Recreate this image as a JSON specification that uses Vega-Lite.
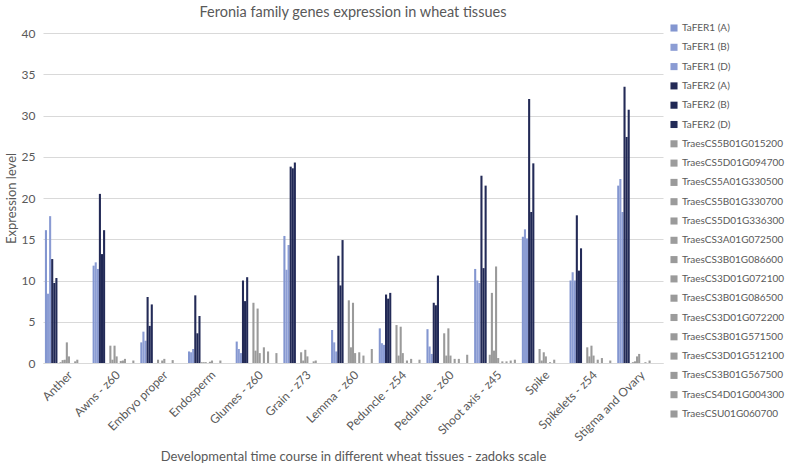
{
  "$schema": "https://vega.github.io/schema/vega-lite/v6.json",
  "width": 620,
  "height": 330,
  "autosize": {"type": "none"},
  "padding": {"left": 43, "top": 33, "right": 124, "bottom": 104},
  "background": "white",
  "title": {"text": "Feronia family genes expression in wheat tissues", "fontSize": 14.5, "fontWeight": "normal", "color": "#595959", "font": "Lato", "offset": 3},
  "config": {"view": {"stroke": null}, "font": "Lato"},
  "datasets": {
    "expr": [
      {"t":"Anther","g":"TaFER1 (A)","v":16.1},{"t":"Anther","g":"TaFER1 (B)","v":8.4},{"t":"Anther","g":"TaFER1 (D)","v":17.8},{"t":"Anther","g":"TaFER2 (A)","v":12.6},{"t":"Anther","g":"TaFER2 (B)","v":9.7},{"t":"Anther","g":"TaFER2 (D)","v":10.3},
      {"t":"Anther","g":"TraesCS5B01G015200","v":0},{"t":"Anther","g":"TraesCS5D01G094700","v":0.1},{"t":"Anther","g":"TraesCS5A01G330500","v":0.35},{"t":"Anther","g":"TraesCS5B01G330700","v":0.4},{"t":"Anther","g":"TraesCS5D01G336300","v":2.5},{"t":"Anther","g":"TraesCS3A01G072500","v":0.8},{"t":"Anther","g":"TraesCS3B01G086600","v":0},{"t":"Anther","g":"TraesCS3D01G072100","v":0},{"t":"Anther","g":"TraesCS3B01G086500","v":0.2},{"t":"Anther","g":"TraesCS3D01G072200","v":0.4},{"t":"Anther","g":"TraesCS3B01G571500","v":0},{"t":"Anther","g":"TraesCS3D01G512100","v":0},{"t":"Anther","g":"TraesCS3B01G567500","v":0},{"t":"Anther","g":"TraesCS4D01G004300","v":0},{"t":"Anther","g":"TraesCSU01G060700","v":0},

      {"t":"Awns - z60","g":"TaFER1 (A)","v":11.8},{"t":"Awns - z60","g":"TaFER1 (B)","v":12.2},{"t":"Awns - z60","g":"TaFER1 (D)","v":11.4},{"t":"Awns - z60","g":"TaFER2 (A)","v":20.5},{"t":"Awns - z60","g":"TaFER2 (B)","v":13.2},{"t":"Awns - z60","g":"TaFER2 (D)","v":16.1},
      {"t":"Awns - z60","g":"TraesCS5B01G015200","v":0},{"t":"Awns - z60","g":"TraesCS5D01G094700","v":0},{"t":"Awns - z60","g":"TraesCS5A01G330500","v":2.1},{"t":"Awns - z60","g":"TraesCS5B01G330700","v":0.4},{"t":"Awns - z60","g":"TraesCS5D01G336300","v":2.1},{"t":"Awns - z60","g":"TraesCS3A01G072500","v":0.8},{"t":"Awns - z60","g":"TraesCS3B01G086600","v":0},{"t":"Awns - z60","g":"TraesCS3D01G072100","v":0.25},{"t":"Awns - z60","g":"TraesCS3B01G086500","v":0.3},{"t":"Awns - z60","g":"TraesCS3D01G072200","v":0.5},{"t":"Awns - z60","g":"TraesCS3B01G571500","v":0},{"t":"Awns - z60","g":"TraesCS3D01G512100","v":0},{"t":"Awns - z60","g":"TraesCS3B01G567500","v":0},{"t":"Awns - z60","g":"TraesCS4D01G004300","v":0.3},{"t":"Awns - z60","g":"TraesCSU01G060700","v":0},

      {"t":"Embryo proper","g":"TaFER1 (A)","v":2.5},{"t":"Embryo proper","g":"TaFER1 (B)","v":3.8},{"t":"Embryo proper","g":"TaFER1 (D)","v":2.7},{"t":"Embryo proper","g":"TaFER2 (A)","v":8.0},{"t":"Embryo proper","g":"TaFER2 (B)","v":4.5},{"t":"Embryo proper","g":"TaFER2 (D)","v":7.1},
      {"t":"Embryo proper","g":"TraesCS5B01G015200","v":0},{"t":"Embryo proper","g":"TraesCS5D01G094700","v":0},{"t":"Embryo proper","g":"TraesCS5A01G330500","v":0.4},{"t":"Embryo proper","g":"TraesCS5B01G330700","v":0},{"t":"Embryo proper","g":"TraesCS5D01G336300","v":0.3},{"t":"Embryo proper","g":"TraesCS3A01G072500","v":0.5},{"t":"Embryo proper","g":"TraesCS3B01G086600","v":0},{"t":"Embryo proper","g":"TraesCS3D01G072100","v":0},{"t":"Embryo proper","g":"TraesCS3B01G086500","v":0},{"t":"Embryo proper","g":"TraesCS3D01G072200","v":0.35},{"t":"Embryo proper","g":"TraesCS3B01G571500","v":0},{"t":"Embryo proper","g":"TraesCS3D01G512100","v":0},{"t":"Embryo proper","g":"TraesCS3B01G567500","v":0},{"t":"Embryo proper","g":"TraesCS4D01G004300","v":0},{"t":"Embryo proper","g":"TraesCSU01G060700","v":0},

      {"t":"Endosperm","g":"TaFER1 (A)","v":1.4},{"t":"Endosperm","g":"TaFER1 (B)","v":1.3},{"t":"Endosperm","g":"TaFER1 (D)","v":1.7},{"t":"Endosperm","g":"TaFER2 (A)","v":8.2},{"t":"Endosperm","g":"TaFER2 (B)","v":3.6},{"t":"Endosperm","g":"TaFER2 (D)","v":5.7},
      {"t":"Endosperm","g":"TraesCS5B01G015200","v":0.1},{"t":"Endosperm","g":"TraesCS5D01G094700","v":0.1},{"t":"Endosperm","g":"TraesCS5A01G330500","v":0.1},{"t":"Endosperm","g":"TraesCS5B01G330700","v":0},{"t":"Endosperm","g":"TraesCS5D01G336300","v":0.15},{"t":"Endosperm","g":"TraesCS3A01G072500","v":0.3},{"t":"Endosperm","g":"TraesCS3B01G086600","v":0},{"t":"Endosperm","g":"TraesCS3D01G072100","v":0},{"t":"Endosperm","g":"TraesCS3B01G086500","v":0},{"t":"Endosperm","g":"TraesCS3D01G072200","v":0.3},{"t":"Endosperm","g":"TraesCS3B01G571500","v":0},{"t":"Endosperm","g":"TraesCS3D01G512100","v":0},{"t":"Endosperm","g":"TraesCS3B01G567500","v":0},{"t":"Endosperm","g":"TraesCS4D01G004300","v":0},{"t":"Endosperm","g":"TraesCSU01G060700","v":0},

      {"t":"Glumes - z60","g":"TaFER1 (A)","v":2.6},{"t":"Glumes - z60","g":"TaFER1 (B)","v":1.7},{"t":"Glumes - z60","g":"TaFER1 (D)","v":1.2},{"t":"Glumes - z60","g":"TaFER2 (A)","v":10.0},{"t":"Glumes - z60","g":"TaFER2 (B)","v":7.5},{"t":"Glumes - z60","g":"TaFER2 (D)","v":10.4},
      {"t":"Glumes - z60","g":"TraesCS5B01G015200","v":0},{"t":"Glumes - z60","g":"TraesCS5D01G094700","v":0},{"t":"Glumes - z60","g":"TraesCS5A01G330500","v":7.3},{"t":"Glumes - z60","g":"TraesCS5B01G330700","v":1.5},{"t":"Glumes - z60","g":"TraesCS5D01G336300","v":6.6},{"t":"Glumes - z60","g":"TraesCS3A01G072500","v":1.2},{"t":"Glumes - z60","g":"TraesCS3B01G086600","v":0},{"t":"Glumes - z60","g":"TraesCS3D01G072100","v":1.9},{"t":"Glumes - z60","g":"TraesCS3B01G086500","v":0},{"t":"Glumes - z60","g":"TraesCS3D01G072200","v":1.4},{"t":"Glumes - z60","g":"TraesCS3B01G571500","v":0},{"t":"Glumes - z60","g":"TraesCS3D01G512100","v":0},{"t":"Glumes - z60","g":"TraesCS3B01G567500","v":0},{"t":"Glumes - z60","g":"TraesCS4D01G004300","v":1.2},{"t":"Glumes - z60","g":"TraesCSU01G060700","v":0},

      {"t":"Grain - z73","g":"TaFER1 (A)","v":15.4},{"t":"Grain - z73","g":"TaFER1 (B)","v":11.3},{"t":"Grain - z73","g":"TaFER1 (D)","v":14.3},{"t":"Grain - z73","g":"TaFER2 (A)","v":23.8},{"t":"Grain - z73","g":"TaFER2 (B)","v":23.6},{"t":"Grain - z73","g":"TaFER2 (D)","v":24.3},
      {"t":"Grain - z73","g":"TraesCS5B01G015200","v":0},{"t":"Grain - z73","g":"TraesCS5D01G094700","v":0},{"t":"Grain - z73","g":"TraesCS5A01G330500","v":1.3},{"t":"Grain - z73","g":"TraesCS5B01G330700","v":0.3},{"t":"Grain - z73","g":"TraesCS5D01G336300","v":1.6},{"t":"Grain - z73","g":"TraesCS3A01G072500","v":0.8},{"t":"Grain - z73","g":"TraesCS3B01G086600","v":0},{"t":"Grain - z73","g":"TraesCS3D01G072100","v":0},{"t":"Grain - z73","g":"TraesCS3B01G086500","v":0.2},{"t":"Grain - z73","g":"TraesCS3D01G072200","v":0.3},{"t":"Grain - z73","g":"TraesCS3B01G571500","v":0},{"t":"Grain - z73","g":"TraesCS3D01G512100","v":0},{"t":"Grain - z73","g":"TraesCS3B01G567500","v":0},{"t":"Grain - z73","g":"TraesCS4D01G004300","v":0},{"t":"Grain - z73","g":"TraesCSU01G060700","v":0},

      {"t":"Lemma - z60","g":"TaFER1 (A)","v":4.0},{"t":"Lemma - z60","g":"TaFER1 (B)","v":2.5},{"t":"Lemma - z60","g":"TaFER1 (D)","v":1.4},{"t":"Lemma - z60","g":"TaFER2 (A)","v":13.0},{"t":"Lemma - z60","g":"TaFER2 (B)","v":9.4},{"t":"Lemma - z60","g":"TaFER2 (D)","v":14.9},
      {"t":"Lemma - z60","g":"TraesCS5B01G015200","v":0},{"t":"Lemma - z60","g":"TraesCS5D01G094700","v":0},{"t":"Lemma - z60","g":"TraesCS5A01G330500","v":7.6},{"t":"Lemma - z60","g":"TraesCS5B01G330700","v":1.9},{"t":"Lemma - z60","g":"TraesCS5D01G336300","v":7.3},{"t":"Lemma - z60","g":"TraesCS3A01G072500","v":1.2},{"t":"Lemma - z60","g":"TraesCS3B01G086600","v":0},{"t":"Lemma - z60","g":"TraesCS3D01G072100","v":1.3},{"t":"Lemma - z60","g":"TraesCS3B01G086500","v":0},{"t":"Lemma - z60","g":"TraesCS3D01G072200","v":0.9},{"t":"Lemma - z60","g":"TraesCS3B01G571500","v":0},{"t":"Lemma - z60","g":"TraesCS3D01G512100","v":0},{"t":"Lemma - z60","g":"TraesCS3B01G567500","v":0},{"t":"Lemma - z60","g":"TraesCS4D01G004300","v":1.7},{"t":"Lemma - z60","g":"TraesCSU01G060700","v":0},

      {"t":"Peduncle - z54","g":"TaFER1 (A)","v":4.2},{"t":"Peduncle - z54","g":"TaFER1 (B)","v":2.4},{"t":"Peduncle - z54","g":"TaFER1 (D)","v":2.2},{"t":"Peduncle - z54","g":"TaFER2 (A)","v":8.3},{"t":"Peduncle - z54","g":"TaFER2 (B)","v":7.8},{"t":"Peduncle - z54","g":"TaFER2 (D)","v":8.5},
      {"t":"Peduncle - z54","g":"TraesCS5B01G015200","v":0},{"t":"Peduncle - z54","g":"TraesCS5D01G094700","v":0},{"t":"Peduncle - z54","g":"TraesCS5A01G330500","v":4.6},{"t":"Peduncle - z54","g":"TraesCS5B01G330700","v":0.9},{"t":"Peduncle - z54","g":"TraesCS5D01G336300","v":4.4},{"t":"Peduncle - z54","g":"TraesCS3A01G072500","v":1.2},{"t":"Peduncle - z54","g":"TraesCS3B01G086600","v":0},{"t":"Peduncle - z54","g":"TraesCS3D01G072100","v":0.3},{"t":"Peduncle - z54","g":"TraesCS3B01G086500","v":0},{"t":"Peduncle - z54","g":"TraesCS3D01G072200","v":0.5},{"t":"Peduncle - z54","g":"TraesCS3B01G571500","v":0},{"t":"Peduncle - z54","g":"TraesCS3D01G512100","v":0},{"t":"Peduncle - z54","g":"TraesCS3B01G567500","v":0},{"t":"Peduncle - z54","g":"TraesCS4D01G004300","v":0.4},{"t":"Peduncle - z54","g":"TraesCSU01G060700","v":0},

      {"t":"Peduncle - z60","g":"TaFER1 (A)","v":4.1},{"t":"Peduncle - z60","g":"TaFER1 (B)","v":2.0},{"t":"Peduncle - z60","g":"TaFER1 (D)","v":1.1},{"t":"Peduncle - z60","g":"TaFER2 (A)","v":7.3},{"t":"Peduncle - z60","g":"TaFER2 (B)","v":7.0},{"t":"Peduncle - z60","g":"TaFER2 (D)","v":10.6},
      {"t":"Peduncle - z60","g":"TraesCS5B01G015200","v":0},{"t":"Peduncle - z60","g":"TraesCS5D01G094700","v":0},{"t":"Peduncle - z60","g":"TraesCS5A01G330500","v":3.6},{"t":"Peduncle - z60","g":"TraesCS5B01G330700","v":0.9},{"t":"Peduncle - z60","g":"TraesCS5D01G336300","v":4.2},{"t":"Peduncle - z60","g":"TraesCS3A01G072500","v":0.9},{"t":"Peduncle - z60","g":"TraesCS3B01G086600","v":0},{"t":"Peduncle - z60","g":"TraesCS3D01G072100","v":0.5},{"t":"Peduncle - z60","g":"TraesCS3B01G086500","v":0},{"t":"Peduncle - z60","g":"TraesCS3D01G072200","v":0.5},{"t":"Peduncle - z60","g":"TraesCS3B01G571500","v":0},{"t":"Peduncle - z60","g":"TraesCS3D01G512100","v":0},{"t":"Peduncle - z60","g":"TraesCS3B01G567500","v":0},{"t":"Peduncle - z60","g":"TraesCS4D01G004300","v":1.0},{"t":"Peduncle - z60","g":"TraesCSU01G060700","v":0},

      {"t":"Shoot axis - z45","g":"TaFER1 (A)","v":11.4},{"t":"Shoot axis - z45","g":"TaFER1 (B)","v":10.0},{"t":"Shoot axis - z45","g":"TaFER1 (D)","v":9.7},{"t":"Shoot axis - z45","g":"TaFER2 (A)","v":22.7},{"t":"Shoot axis - z45","g":"TaFER2 (B)","v":11.5},{"t":"Shoot axis - z45","g":"TaFER2 (D)","v":21.5},
      {"t":"Shoot axis - z45","g":"TraesCS5B01G015200","v":0},{"t":"Shoot axis - z45","g":"TraesCS5D01G094700","v":1.0},{"t":"Shoot axis - z45","g":"TraesCS5A01G330500","v":8.5},{"t":"Shoot axis - z45","g":"TraesCS5B01G330700","v":1.5},{"t":"Shoot axis - z45","g":"TraesCS5D01G336300","v":11.7},{"t":"Shoot axis - z45","g":"TraesCS3A01G072500","v":0.6},{"t":"Shoot axis - z45","g":"TraesCS3B01G086600","v":0},{"t":"Shoot axis - z45","g":"TraesCS3D01G072100","v":0.2},{"t":"Shoot axis - z45","g":"TraesCS3B01G086500","v":0},{"t":"Shoot axis - z45","g":"TraesCS3D01G072200","v":0.2},{"t":"Shoot axis - z45","g":"TraesCS3B01G571500","v":0},{"t":"Shoot axis - z45","g":"TraesCS3D01G512100","v":0.3},{"t":"Shoot axis - z45","g":"TraesCS3B01G567500","v":0},{"t":"Shoot axis - z45","g":"TraesCS4D01G004300","v":0.4},{"t":"Shoot axis - z45","g":"TraesCSU01G060700","v":0},

      {"t":"Spike","g":"TaFER1 (A)","v":15.3},{"t":"Spike","g":"TaFER1 (B)","v":16.2},{"t":"Spike","g":"TaFER1 (D)","v":15.1},{"t":"Spike","g":"TaFER2 (A)","v":32.0},{"t":"Spike","g":"TaFER2 (B)","v":18.3},{"t":"Spike","g":"TaFER2 (D)","v":24.2},
      {"t":"Spike","g":"TraesCS5B01G015200","v":0},{"t":"Spike","g":"TraesCS5D01G094700","v":0},{"t":"Spike","g":"TraesCS5A01G330500","v":1.7},{"t":"Spike","g":"TraesCS5B01G330700","v":0.3},{"t":"Spike","g":"TraesCS5D01G336300","v":1.3},{"t":"Spike","g":"TraesCS3A01G072500","v":0.8},{"t":"Spike","g":"TraesCS3B01G086600","v":0},{"t":"Spike","g":"TraesCS3D01G072100","v":0.1},{"t":"Spike","g":"TraesCS3B01G086500","v":0},{"t":"Spike","g":"TraesCS3D01G072200","v":0.4},{"t":"Spike","g":"TraesCS3B01G571500","v":0},{"t":"Spike","g":"TraesCS3D01G512100","v":0},{"t":"Spike","g":"TraesCS3B01G567500","v":0},{"t":"Spike","g":"TraesCS4D01G004300","v":0},{"t":"Spike","g":"TraesCSU01G060700","v":0},

      {"t":"Spikelets - z54","g":"TaFER1 (A)","v":10.0},{"t":"Spikelets - z54","g":"TaFER1 (B)","v":11.0},{"t":"Spikelets - z54","g":"TaFER1 (D)","v":10.0},{"t":"Spikelets - z54","g":"TaFER2 (A)","v":17.9},{"t":"Spikelets - z54","g":"TaFER2 (B)","v":11.2},{"t":"Spikelets - z54","g":"TaFER2 (D)","v":13.9},
      {"t":"Spikelets - z54","g":"TraesCS5B01G015200","v":0},{"t":"Spikelets - z54","g":"TraesCS5D01G094700","v":0},{"t":"Spikelets - z54","g":"TraesCS5A01G330500","v":1.9},{"t":"Spikelets - z54","g":"TraesCS5B01G330700","v":0.8},{"t":"Spikelets - z54","g":"TraesCS5D01G336300","v":2.1},{"t":"Spikelets - z54","g":"TraesCS3A01G072500","v":0.9},{"t":"Spikelets - z54","g":"TraesCS3B01G086600","v":0},{"t":"Spikelets - z54","g":"TraesCS3D01G072100","v":0.4},{"t":"Spikelets - z54","g":"TraesCS3B01G086500","v":0},{"t":"Spikelets - z54","g":"TraesCS3D01G072200","v":0.6},{"t":"Spikelets - z54","g":"TraesCS3B01G571500","v":0},{"t":"Spikelets - z54","g":"TraesCS3D01G512100","v":0},{"t":"Spikelets - z54","g":"TraesCS3B01G567500","v":0},{"t":"Spikelets - z54","g":"TraesCS4D01G004300","v":0.3},{"t":"Spikelets - z54","g":"TraesCSU01G060700","v":0},

      {"t":"Stigma and Ovary","g":"TaFER1 (A)","v":21.5},{"t":"Stigma and Ovary","g":"TaFER1 (B)","v":22.3},{"t":"Stigma and Ovary","g":"TaFER1 (D)","v":18.3},{"t":"Stigma and Ovary","g":"TaFER2 (A)","v":33.5},{"t":"Stigma and Ovary","g":"TaFER2 (B)","v":27.4},{"t":"Stigma and Ovary","g":"TaFER2 (D)","v":30.7},
      {"t":"Stigma and Ovary","g":"TraesCS5B01G015200","v":0},{"t":"Stigma and Ovary","g":"TraesCS5D01G094700","v":0.1},{"t":"Stigma and Ovary","g":"TraesCS5A01G330500","v":0.2},{"t":"Stigma and Ovary","g":"TraesCS5B01G330700","v":0.8},{"t":"Stigma and Ovary","g":"TraesCS5D01G336300","v":1.1},{"t":"Stigma and Ovary","g":"TraesCS3A01G072500","v":0},{"t":"Stigma and Ovary","g":"TraesCS3B01G086600","v":0},{"t":"Stigma and Ovary","g":"TraesCS3D01G072100","v":0.1},{"t":"Stigma and Ovary","g":"TraesCS3B01G086500","v":0},{"t":"Stigma and Ovary","g":"TraesCS3D01G072200","v":0.3},{"t":"Stigma and Ovary","g":"TraesCS3B01G571500","v":0},{"t":"Stigma and Ovary","g":"TraesCS3D01G512100","v":0},{"t":"Stigma and Ovary","g":"TraesCS3B01G567500","v":0},{"t":"Stigma and Ovary","g":"TraesCS4D01G004300","v":0},{"t":"Stigma and Ovary","g":"TraesCSU01G060700","v":0}
    ]
  },
  "data": {"name": "expr"},
  "mark": {"type": "bar"},
  "encoding": {
    "x": {
      "field": "t", "type": "nominal",
      "sort": ["Anther","Awns - z60","Embryo proper","Endosperm","Glumes - z60","Grain - z73","Lemma - z60","Peduncle - z54","Peduncle - z60","Shoot axis - z45","Spike","Spikelets - z54","Stigma and Ovary"],
      "scale": {"paddingInner": 0.08, "paddingOuter": 0.04},
      "axis": {
        "title": "Developmental time course in different wheat tissues - zadoks scale",
        "labelAngle": -45, "labelFontSize": 12, "labelColor": "#595959", "labelPadding": 6,
        "ticks": false, "domainColor": "#D9D9D9", "titleFontSize": 13, "titleFontWeight": "normal", "titleColor": "#595959", "titlePadding": 8
      }
    },
    "xOffset": {
      "field": "g", "type": "nominal",
      "sort": ["TaFER1 (A)","TaFER1 (B)","TaFER1 (D)","TaFER2 (A)","TaFER2 (B)","TaFER2 (D)","TraesCS5B01G015200","TraesCS5D01G094700","TraesCS5A01G330500","TraesCS5B01G330700","TraesCS5D01G336300","TraesCS3A01G072500","TraesCS3B01G086600","TraesCS3D01G072100","TraesCS3B01G086500","TraesCS3D01G072200","TraesCS3B01G571500","TraesCS3D01G512100","TraesCS3B01G567500","TraesCS4D01G004300","TraesCSU01G060700"]
    },
    "y": {
      "field": "v", "type": "quantitative",
      "scale": {"domain": [0, 40]},
      "axis": {
        "title": "Expression level", "values": [0,5,10,15,20,25,30,35,40],
        "domain": false, "ticks": false, "gridColor": "#D9D9D9", "labelColor": "#595959", "labelFontSize": 12, "labelPadding": 8,
        "titleFontSize": 13, "titleFontWeight": "normal", "titleColor": "#595959", "titlePadding": 3
      }
    },
    "color": {
      "field": "g", "type": "nominal",
      "scale": {
        "domain": ["TaFER1 (A)","TaFER1 (B)","TaFER1 (D)","TaFER2 (A)","TaFER2 (B)","TaFER2 (D)","TraesCS5B01G015200","TraesCS5D01G094700","TraesCS5A01G330500","TraesCS5B01G330700","TraesCS5D01G336300","TraesCS3A01G072500","TraesCS3B01G086600","TraesCS3D01G072100","TraesCS3B01G086500","TraesCS3D01G072200","TraesCS3B01G571500","TraesCS3D01G512100","TraesCS3B01G567500","TraesCS4D01G004300","TraesCSU01G060700"],
        "range": ["#8396D0","#8C9DD4","#8A9BD3","#232A56","#202855","#232B58","#9A9A9A","#9C9C9C","#9A9A9A","#9B9B9B","#9A9A9A","#9C9C9C","#9A9A9A","#9B9B9B","#9A9A9A","#9C9C9C","#9A9A9A","#9B9B9B","#9A9A9A","#9C9C9C","#9A9A9A"]
      },
      "legend": {
        "title": null, "orient": "none", "legendX": 626, "legendY": -10,
        "symbolType": "square", "symbolSize": 50, "symbolStrokeWidth": 0,
        "labelFontSize": 10, "labelColor": "#595959", "labelLimit": 200, "rowPadding": 9.3, "labelOffset": 3
      }
    }
  }
}
